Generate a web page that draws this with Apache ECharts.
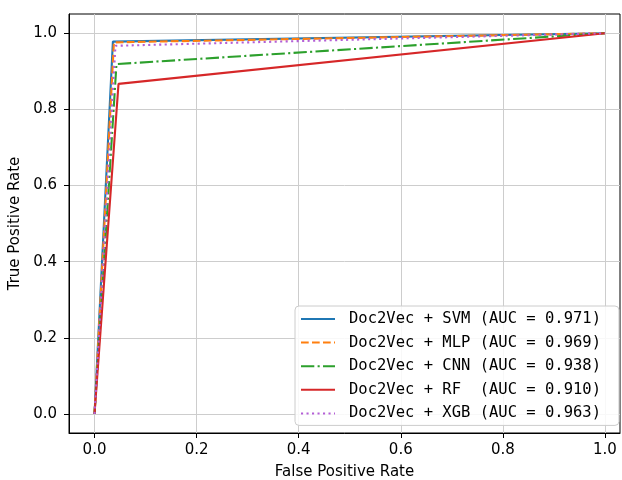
<!DOCTYPE html>
<html>
<head>
<meta charset="utf-8">
<script src="https://cdn.jsdelivr.net/npm/echarts@6/dist/echarts.min.js"></script>
<style>html,body{margin:0;padding:0;background:#fff}#c{width:622px;height:480px}</style>
</head>
<body>
<div id="c"></div>
<script>
// Data (ROC curves: [0,0] -> [fpr,tpr] -> [1,1])
const seriesNames = [
  'Doc2Vec + SVM (AUC = 0.971)',
  'Doc2Vec + MLP (AUC = 0.969)',
  'Doc2Vec + CNN (AUC = 0.938)',
  'Doc2Vec + RF  (AUC = 0.910)',
  'Doc2Vec + XGB (AUC = 0.963)'
];
const fprSVM = [0.0, 0.036, 1.0];
const tprSVM = [0.0, 0.978, 1.0];
const fprMLP = [0.0, 0.038, 1.0];
const tprMLP = [0.0, 0.976, 1.0];
const fprCNN = [0.0, 0.043, 1.0];
const tprCNN = [0.0, 0.919, 1.0];
const fprRF  = [0.0, 0.047, 1.0];
const tprRF  = [0.0, 0.867, 1.0];
const fprXGB = [0.0, 0.041, 1.0];
const tprXGB = [0.0, 0.967, 1.0];
const xTicks = [0.0, 0.2, 0.4, 0.6, 0.8, 1.0];
const yTicks = [0.0, 0.2, 0.4, 0.6, 0.8, 1.0];

const colors = ['#1f77b4', '#ff7f0e', '#2ca02c', '#d62728', '#b45fd6'];
const dashes = ['solid', [7.7, 3.3], [13.3, 3.3, 2.1, 3.3], 'solid', [2.1, 3.4]];
const fprs = [fprSVM, fprMLP, fprCNN, fprRF, fprXGB];
const tprs = [tprSVM, tprMLP, tprCNN, tprRF, tprXGB];

function pairs(xs, ys) { return xs.map((x, i) => [x, ys[i]]); }

const chart = echarts.init(document.getElementById('c'), null, {renderer: 'canvas'});
const labelFont = 'DejaVu Sans';
chart.setOption({
  animation: false,
  color: colors,
  grid: {left: 69, right: 2, top: 14, bottom: 47, show: true, borderColor: '#000', borderWidth: 1,
         backgroundColor: 'transparent', containLabel: false, outerBoundsMode: 'none'},
  xAxis: {
    type: 'value', min: -0.05, max: 1.0295,
    name: 'False Positive Rate', nameLocation: 'middle', nameGap: 32,
    nameTextStyle: {fontFamily: labelFont, fontSize: 15, color: '#000'},
    axisLine: {show: true, onZero: false, lineStyle: {color: '#000', width: 1}},
    axisTick: {show: true, length: 5, inside: false, customValues: xTicks, lineStyle: {color: '#000'}},
    axisLabel: {customValues: xTicks, margin: 10, fontFamily: labelFont, fontSize: 15, color: '#000', formatter: v => v.toFixed(1)},
    splitLine: {show: true, lineStyle: {color: '#cdcdcd', width: 1}}
  },
  yAxis: {
    type: 'value', min: -0.05, max: 1.0505,
    name: 'True Positive Rate', nameLocation: 'middle', nameGap: 41, nameRotate: 90,
    nameTextStyle: {fontFamily: labelFont, fontSize: 15, color: '#000'},
    axisLine: {show: true, onZero: false, lineStyle: {color: '#000', width: 1}},
    axisTick: {show: true, length: 5, inside: false, customValues: yTicks, lineStyle: {color: '#000'}},
    axisLabel: {customValues: yTicks, margin: 12, fontFamily: labelFont, fontSize: 15, color: '#000', formatter: v => v.toFixed(1)},
    splitLine: {show: true, lineStyle: {color: '#cdcdcd', width: 1}}
  },
  legend: {
    orient: 'vertical', left: 295, top: 306,
    backgroundColor: 'rgba(255,255,255,0.85)', borderColor: '#cccccc', borderWidth: 1, borderRadius: 4,
    padding: [5, 18, 4, 5], itemGap: 7.6, itemWidth: 34, itemHeight: 14,
    itemStyle: {opacity: 0},
    textStyle: {fontFamily: 'DejaVu Sans Mono', fontSize: 15.5, color: '#000', padding: [0, 0, 0, 9]},
    data: seriesNames
  },
  series: seriesNames.map((n, i) => ({
    name: n, type: 'line', symbol: 'none', showSymbol: false,
    data: pairs(fprs[i], tprs[i]), z: 2 + i,
    lineStyle: {color: colors[i], width: 2.1, type: dashes[i], cap: 'butt'}
  }))
});
</script>
</body>
</html>
